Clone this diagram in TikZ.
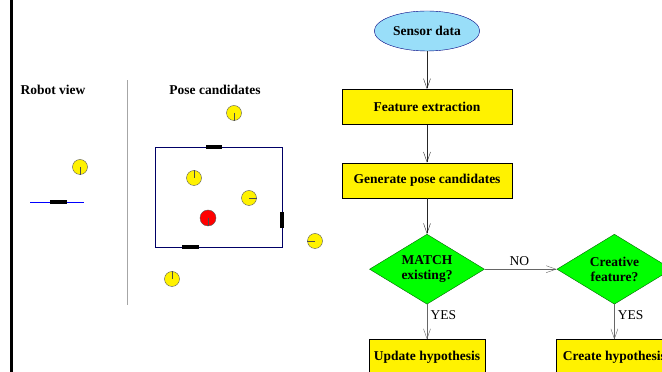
\documentclass[tikz,border=0pt]{standalone}
\usepackage{fontspec}
\setmainfont{Liberation Serif}
\usetikzlibrary{arrows.meta,positioning,shapes.geometric}

\begin{document}
\begin{tikzpicture}[x=1pt,y=1pt,>={Straight Barb[length=10pt,width=7pt]},
  font=\fontsize{13.5}{15}\selectfont,
  blk/.style={draw=black,fill=yellow,minimum width=170pt,minimum height=35pt,font=\fontsize{13.5}{15}\selectfont\bfseries},
  sblk/.style={blk,minimum width=116pt},
  dec/.style={diamond,draw=green!40!black,fill=green,inner sep=0pt,aspect=1.6,minimum width=115pt,minimum height=70pt,align=center,font=\fontsize{13.5}{15}\selectfont\bfseries},
  cand/.style={circle,draw=gray!70!black,fill=yellow,minimum size=15pt,inner sep=0pt},
  wall/.style={black,line width=4pt},
  flw/.style={->,black!85},
  ans/.style={->,gray!80!black}]
\useasboundingbox (0,0) rectangle (662,372);
\clip (0,0) rectangle (662,372);
% left side: robot view and pose candidates
\draw[line width=3pt] (11,0) -- (11,372);
\draw[gray!70] (127,67) -- (127,292);
\node[font=\fontsize{13.5}{15}\selectfont\bfseries] (rv) at (53,282) {Robot view};
\node[font=\fontsize{13.5}{15}\selectfont\bfseries] (pc) at (215,282) {Pose candidates};
\draw[blue] (30,170) -- (84,170);
\draw[wall] (50,170) -- (67,170);
\draw[blue!40!black,thick] (155,125) rectangle (282,225);
\draw[wall] (206,225) -- (222,225);
\draw[wall] (182,125) -- (199,125);
\draw[wall] (282,144) -- (282,160);
\foreach \x/\y/\a [count=\i] in {234/259/south,80/205/south,194/194/north,249/174/east,315/131/west,172/93/north}{
  \node[cand] (c\i) at (\x,\y) {};
  \draw[black!70,semithick] (c\i.center) -- (c\i.\a);
}
\node[cand,fill=red,minimum size=16pt] (robot) at (208,154) {};
\draw[black!70,semithick] (robot.center) -- (robot.south);
% flowchart
\node[ellipse,draw=blue!50!black,fill=cyan!40,minimum width=102pt,minimum height=40pt,font=\fontsize{13.5}{15}\selectfont\bfseries] (sensor) at (427,341) {Sensor data};
\node[blk,below=38pt of sensor] (feat) {Feature extraction};
\node[blk,below=38pt of feat] (gen) {Generate pose candidates};
\node[dec,below=36pt of gen] (match) {MATCH\\existing?};
\node[dec,right=72pt of match] (creat) {Creative\\feature?};
\node[sblk,below=35pt of match] (upd) {Update hypothesis};
\node[sblk,below=35pt of creat] (crt) {Create hypothesis};
\draw[flw] (sensor) -- (feat);
\draw[flw] (feat) -- (gen);
\draw[flw] (gen) -- (match);
\draw[ans] (match) -- node[above,pos=0.48,text=black] {NO} (creat);
\draw[ans] (match) -- node[right,pos=0.3,text=black] {YES} (upd);
\draw[ans] (creat) -- node[right,pos=0.3,text=black] {YES} (crt);
\end{tikzpicture}
\end{document}
